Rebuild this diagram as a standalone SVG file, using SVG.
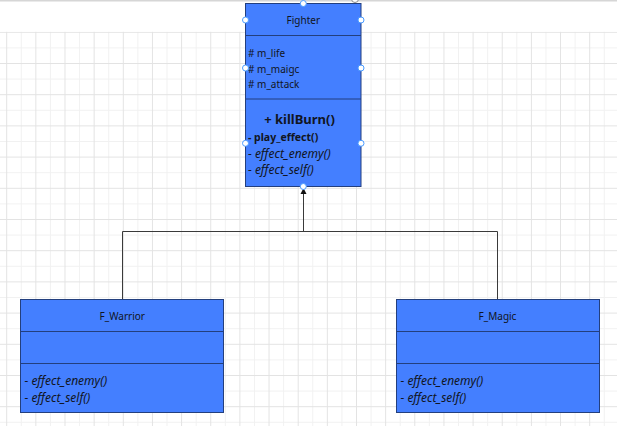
<svg xmlns="http://www.w3.org/2000/svg" width="617" height="426" viewBox="0 0 617 426">
  <style>
    .box { fill: #447fff; stroke: #233f7e; stroke-width: 1; }
    .div { stroke: #233f7e; stroke-width: 1; }
    .t { font-family: "Noto Sans", "Open Sans", sans-serif; fill: #111522; }
    .title { font-size: 10px; text-anchor: middle; }
    .attr { font-size: 10px; }
    .big { font-size: 13px; font-weight: bold; text-anchor: middle; }
    .bold { font-size: 10.5px; font-weight: bold; }
    .it { font-size: 12px; font-style: italic; }
    .conn { fill: none; stroke: #3a3a3a; stroke-width: 1; }
    .h { fill: #ffffff; stroke: #4a9bff; stroke-width: 1; }
  </style>
  <defs>
    <pattern id="grid" patternUnits="userSpaceOnUse" x="6.2" y="31.8" width="29.15" height="31.2">
      <rect x="14.575" y="0" width="1" height="31.2" fill="#f1f1f1"/>
      <rect x="0" y="15.6" width="29.15" height="1" fill="#f1f1f1"/>
      <rect x="0" y="0" width="1" height="31.2" fill="#e3e3e3"/>
      <rect x="0" y="0" width="29.15" height="1" fill="#e3e3e3"/>
    </pattern>
  </defs>

  <rect x="0" y="0" width="617" height="426" fill="#ffffff"/>
  <rect x="0" y="31.8" width="617" height="395" fill="url(#grid)"/>
  <rect x="0" y="0" width="617" height="1.5" fill="#d6d6d6"/>

  <g id="connectors">
    <polyline class="conn" points="303.5,231.5 303.5,190"/>
    <path d="M300.5,194 L303.5,188 L306.5,194 Z" fill="#111"/>
    <polyline class="conn" points="122.5,299 122.5,231.5 497.5,231.5 497.5,299"/>
  </g>

  <g id="fighter">
    <rect class="box" x="245.5" y="3.5" width="115.5" height="183"/>
    <line class="div" x1="245.5" y1="35.5" x2="361" y2="35.5"/>
    <line class="div" x1="245.5" y1="99" x2="361" y2="99"/>
    <text class="t title" x="303.3" y="23.5">Fighter</text>
    <text class="t attr" x="248" y="56.5"># m_life</text>
    <text class="t attr" x="248" y="73"># m_maigc</text>
    <text class="t attr" x="248" y="88"># m_attack</text>
    <text class="t big" x="299.5" y="124">+ killBurn()</text>
    <text class="t bold" x="248" y="140.5">- play_effect()</text>
    <text class="t it" x="248" y="157.5">- effect_enemy()</text>
    <text class="t it" x="248" y="173.5">- effect_self()</text>
    <circle class="h" cx="303.3" cy="3.5" r="3"/>
    <circle class="h" cx="245.5" cy="20" r="3"/>
    <circle class="h" cx="361" cy="20" r="3"/>
    <circle class="h" cx="245.5" cy="68" r="3"/>
    <circle class="h" cx="361" cy="68" r="3"/>
    <circle class="h" cx="245.5" cy="143.3" r="3"/>
    <circle class="h" cx="361" cy="143.3" r="3"/>
    <circle class="h" cx="303.3" cy="186.5" r="3"/>
    <circle cx="355" cy="-1" r="3.5" fill="#ffffff" stroke="#8a8a8a" stroke-width="1"/>
  </g>

  <g id="f_warrior">
    <rect class="box" x="20.5" y="299.5" width="203" height="113"/>
    <line class="div" x1="20.5" y1="331.5" x2="223.5" y2="331.5"/>
    <line class="div" x1="20.5" y1="363.5" x2="223.5" y2="363.5"/>
    <text class="t title" x="122.3" y="319.5">F_Warrior</text>
    <text class="t it" x="24.5" y="385">- effect_enemy()</text>
    <text class="t it" x="24.5" y="402">- effect_self()</text>
  </g>

  <g id="f_magic">
    <rect class="box" x="396.5" y="299.5" width="203" height="113"/>
    <line class="div" x1="396.5" y1="331.5" x2="599.5" y2="331.5"/>
    <line class="div" x1="396.5" y1="363.5" x2="599.5" y2="363.5"/>
    <text class="t title" x="497.5" y="319.5">F_Magic</text>
    <text class="t it" x="400.5" y="385">- effect_enemy()</text>
    <text class="t it" x="400.5" y="402">- effect_self()</text>
  </g>
</svg>
